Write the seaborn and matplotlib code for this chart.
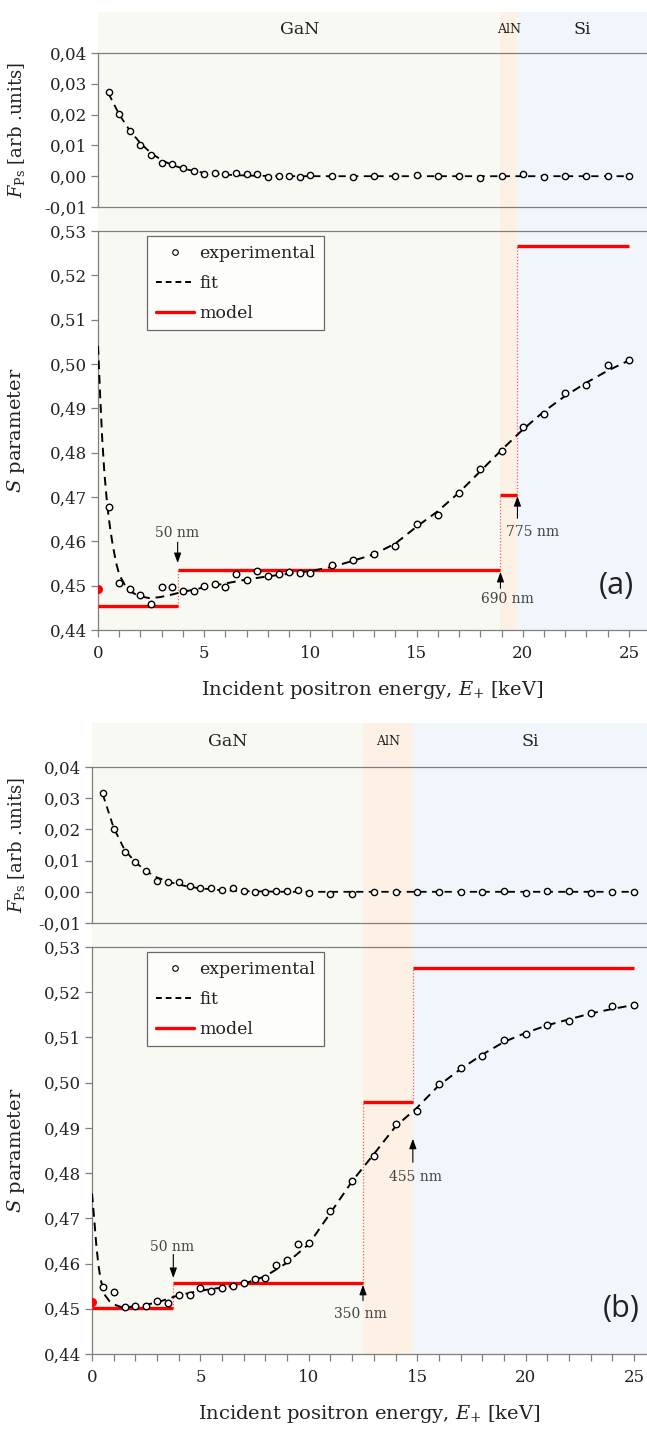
import numpy as np
import pandas as pd
import matplotlib
matplotlib.use("Agg")
import matplotlib.pyplot as plt
import seaborn as sns
from matplotlib.ticker import FixedLocator, MultipleLocator, FuncFormatter
from matplotlib.lines import Line2D

# ---------------- data ----------------
E_exp = [0.5, 1.0, 1.5, 2.0, 2.5, 3.0, 3.5, 4.0, 4.5, 5.0, 5.5, 6.0, 6.5, 7.0, 7.5,
         8.0, 8.5, 9.0, 9.5, 10.0, 11, 12, 13, 14, 15, 16, 17, 18, 19, 20, 21, 22, 23, 24, 25]

S_exp_a = [0.4678, 0.4507, 0.4493, 0.4479, 0.4458, 0.4497, 0.4497, 0.4487, 0.4488, 0.4500,
           0.4504, 0.4498, 0.4526, 0.4513, 0.4532, 0.4521, 0.4526, 0.4531, 0.4528, 0.4529,
           0.4546, 0.4557, 0.4572, 0.4590, 0.4639, 0.4660, 0.4709, 0.4763, 0.4804, 0.4858,
           0.4888, 0.4934, 0.4953, 0.4997, 0.5010]
S_exp_b = [0.4548, 0.4538, 0.4504, 0.4507, 0.4507, 0.4518, 0.4512, 0.4530, 0.4530, 0.4546,
           0.4539, 0.4546, 0.4550, 0.4556, 0.4565, 0.4568, 0.4596, 0.4608, 0.4643, 0.4646,
           0.4717, 0.4783, 0.4838, 0.4908, 0.4938, 0.4998, 0.5033, 0.5060, 0.5095, 0.5107,
           0.5128, 0.5137, 0.5154, 0.5169, 0.5172]

F_exp_a = [0.0272, 0.0203, 0.0146, 0.0102, 0.0069, 0.0043, 0.0039, 0.0028, 0.0018, 0.0008,
           0.0010, 0.0006, 0.0012, 0.0008, 0.0006, -0.0002, 0.0001, 0.0002, -0.0001, 0.0004,
           0.0002, -0.0003, 0.0000, 0.0002, 0.0005, 0.0000, 0.0000, -0.0005, 0.0000, 0.0008,
           -0.0003, 0.0000, 0.0002, 0.0001, 0.0000]
F_exp_b = [0.0317, 0.0201, 0.0127, 0.0096, 0.0068, 0.0036, 0.0030, 0.0032, 0.0020, 0.0011,
           0.0013, 0.0007, 0.0011, 0.0004, -0.0001, 0.0000, 0.0002, 0.0002, 0.0005, -0.0005,
           -0.0006, -0.0007, -0.0002, 0.0000, 0.0000, 0.0000, 0.0000, -0.0002, 0.0003, -0.0003,
           0.0001, 0.0001, -0.0003, -0.0001, 0.0000]

# fits
E_fitS_a = [0.0, 0.1, 0.2, 0.3, 0.4, 0.5, 0.6, 0.7, 0.85, 1.0, 1.3, 1.6, 1.9, 2.4, 2.9, 3.4,
            3.9, 4.5, 5, 6, 7, 8, 9, 10, 11, 12, 13, 14, 15, 16, 17, 18, 19, 20, 21, 22, 23, 24, 25]
S_fit_a = [0.5041, 0.4930, 0.4830, 0.4755, 0.4700, 0.4655, 0.4620, 0.4590, 0.4552, 0.4525,
           0.4498, 0.4485, 0.4477, 0.4472, 0.4474, 0.4479, 0.4485, 0.4491, 0.4496, 0.4505,
           0.4514, 0.4521, 0.4527, 0.4533, 0.4542, 0.4556, 0.4571, 0.4595, 0.4633, 0.4668,
           0.4710, 0.4758, 0.4806, 0.4852, 0.4893, 0.4928, 0.4958, 0.4985, 0.5008]
E_fitS_b = [0.0, 0.1, 0.2, 0.3, 0.4, 0.5, 0.6, 0.8, 1.1, 1.4, 1.9, 2.5, 3.0, 3.5, 4, 5, 6, 7,
            8, 9, 10, 11, 12, 13, 14, 15, 16, 17, 18, 19, 20, 21, 22, 23, 24, 25]
S_fit_b = [0.4755, 0.4700, 0.4640, 0.4595, 0.4565, 0.4545, 0.4530, 0.4517, 0.4508, 0.4503,
           0.4505, 0.4509, 0.4514, 0.4522, 0.4530, 0.4540, 0.4547, 0.4555, 0.4572, 0.4602,
           0.4643, 0.4712, 0.4782, 0.4842, 0.4903, 0.4945, 0.4994, 0.5030, 0.5062, 0.5090,
           0.5110, 0.5127, 0.5140, 0.5153, 0.5163, 0.5172]

E_fitF = [0.5, 1.0, 1.5, 2.0, 2.5, 3.0, 3.5, 4.0, 4.5, 5, 6, 7, 8, 9, 10, 15, 20, 25]
F_fit_a = [0.0268, 0.0200, 0.0148, 0.0107, 0.0075, 0.0052, 0.0036, 0.0025, 0.0017, 0.0011,
           0.0005, 0.0002, 0.0001, 0.0, 0.0, 0.0, 0.0, 0.0]
F_fit_b = [0.0312, 0.0205, 0.0135, 0.0095, 0.0066, 0.0046, 0.0033, 0.0023, 0.0016, 0.0011,
           0.0005, 0.0002, 0.0001, 0.0, 0.0, 0.0, 0.0, 0.0]

# model step profiles
model_edges_a = [0.0, 3.75, 18.95, 19.75, 25.0]
model_S_a = [0.4455, 0.4536, 0.4704, 0.5266]
model_surface_a = 0.4492
model_edges_b = [0.0, 3.75, 12.5, 14.8, 25.0]
model_S_b = [0.4501, 0.4558, 0.4958, 0.5253]
model_surface_b = 0.4514

# layers
layer_names = ["GaN", "AlN", "Si"]
layer_edges_a = [0.0, 18.95, 19.75, 25.85]
layer_edges_b = [0.0, 12.5, 14.8, 25.6]
layer_colors = ["#f7f9f2", "#fdf0e4", "#f1f6fc"]

# annotations: (label, x_arrow, y_tip, y_tail, x_text, y_text)
annot_a = [("50 nm", 3.75, 0.4551, 0.4598, 3.7, 0.4618),
           ("690 nm", 18.95, 0.4531, 0.4494, 19.3, 0.4469),
           ("775 nm", 19.75, 0.4702, 0.4652, 20.45, 0.4620)]
annot_b = [("50 nm", 3.75, 0.4568, 0.4620, 3.7, 0.4637),
           ("350 nm", 12.5, 0.4553, 0.4518, 12.4, 0.4489),
           ("455 nm", 14.8, 0.4876, 0.4824, 14.9, 0.4791)]

S_ticks = [0.44, 0.45, 0.46, 0.47, 0.48, 0.49, 0.50, 0.51, 0.52, 0.53]
F_ticks = [-0.01, 0.00, 0.01, 0.02, 0.03, 0.04]
x_major = [0, 5, 10, 15, 20, 25]

# ---------------- style ----------------
sns.set_theme(style="white")
plt.rcParams['font.family'] = ['DejaVu Serif']
plt.rcParams['mathtext.fontset'] = 'dejavuserif'
plt.rcParams['axes.edgecolor'] = '#7f7f7f'
plt.rcParams['axes.linewidth'] = 0.9
plt.rcParams['text.color'] = '#222222'
plt.rcParams['axes.labelcolor'] = '#222222'
plt.rcParams['xtick.color'] = '#7f7f7f'
plt.rcParams['ytick.color'] = '#7f7f7f'
plt.rcParams['xtick.labelcolor'] = '#222222'
plt.rcParams['ytick.labelcolor'] = '#222222'

W, H = 647, 1432
fig = plt.figure(figsize=(W / 100, H / 100), dpi=100)
fig.patch.set_facecolor('white')


def rect(l, t, r, b):
    return [l / W, 1 - b / H, (r - l) / W, (b - t) / H]


comma = FuncFormatter(lambda v, p: f"{v:.2f}".replace('.', ','))


def panel(geom, xmax, layer_edges, E, S, F, Efs, Sfit, Ff, model_edges, model_S,
          model_surface, annots, letter):
    left, top_bg, top_f, bot_f, top_s, bot_s = geom
    # background layers
    bg = fig.add_axes(rect(left, top_bg, W, bot_s), zorder=0)
    bg.set_xlim(0, xmax)
    bg.set_ylim(0, 1)
    for i in range(3):
        bg.axvspan(layer_edges[i], layer_edges[i + 1], color=layer_colors[i], lw=0)
    bg.axis('off')
    ytxt = 1 - ((top_f - top_bg) * 0.42) / (bot_s - top_bg)
    for i, nm in enumerate(layer_names):
        xc = 0.5 * (layer_edges[i] + layer_edges[i + 1])
        bg.text(xc, ytxt, nm, ha='center', va='center',
                fontsize=9 if nm == "AlN" else 12.5, color='#222222')

    # F_Ps axes
    axf = fig.add_axes(rect(left, top_f, W, bot_f), zorder=2)
    axf.set_facecolor('none')
    sns.lineplot(x=Efs, y=Ff, ax=axf, color='black', lw=1.3, linestyle=(0, (4, 3)),
                 estimator=None, sort=False, zorder=3)
    sns.scatterplot(x=E, y=F, ax=axf, marker='o', s=20, facecolor='white',
                    edgecolor='black', linewidth=1.0, zorder=5)
    axf.set_xlim(0, xmax)
    axf.set_ylim(-0.01, 0.04)
    axf.yaxis.set_major_locator(FixedLocator(F_ticks))
    axf.yaxis.set_major_formatter(comma)
    axf.set_xticks([])
    axf.spines['right'].set_visible(False)
    axf.tick_params(axis='y', direction='out', length=5, width=0.9, labelsize=12, pad=3, left=True)
    axf.set_ylabel(r"$\mathit{F}_{\mathrm{Ps}}$ [arb .units]", fontsize=13)
    axf.yaxis.set_label_coords((27 - left) / (W - left), 0.5)

    # S axes
    ax = fig.add_axes(rect(left, top_s, W, bot_s), zorder=2)
    ax.set_facecolor('none')
    # model
    ax.hlines(model_S, model_edges[:-1], model_edges[1:], colors='#ff0000', lw=2.4, zorder=4)
    vx = [0.0] + list(model_edges[1:-1])
    vlo = [min(model_surface, model_S[0])] + [min(model_S[i], model_S[i + 1]) for i in range(len(model_S) - 1)]
    vhi = [max(model_surface, model_S[0])] + [max(model_S[i], model_S[i + 1]) for i in range(len(model_S) - 1)]
    ax.vlines(vx, vlo, vhi, colors='#ff5a5a', lw=0.9, linestyles=(0, (1, 1.5)), zorder=3)
    ax.scatter([0.0], [model_surface], s=30, color='#ff0000', zorder=4, clip_on=True)
    sns.lineplot(x=Sfit[0], y=Sfit[1], ax=ax, color='black', lw=1.4, linestyle=(0, (4.5, 3)),
                 estimator=None, sort=False, zorder=5)
    sns.scatterplot(x=E, y=S, ax=ax, marker='o', s=22, facecolor='white',
                    edgecolor='black', linewidth=1.0, zorder=6)
    ax.set_xlim(0, xmax)
    ax.set_ylim(0.44, 0.53)
    ax.yaxis.set_major_locator(FixedLocator(S_ticks))
    ax.yaxis.set_major_formatter(comma)
    ax.xaxis.set_major_locator(FixedLocator(x_major))
    ax.xaxis.set_minor_locator(MultipleLocator(1))
    ax.spines['right'].set_visible(False)
    ax.tick_params(axis='y', direction='out', length=5, width=0.9, labelsize=12, pad=3, left=True)
    ax.tick_params(axis='x', which='both', direction='out', length=5, width=0.9,
                   labelsize=12, pad=6, bottom=True)
    ax.set_ylabel(r"$\mathit{S}$ parameter", fontsize=14)
    ax.yaxis.set_label_coords((27 - left) / (W - left), 0.5)
    ax.set_xlabel(r"Incident positron energy, $\mathit{E}_{+}$ [keV]", fontsize=14, labelpad=12)

    handles = [Line2D([], [], ls='none', marker='o', ms=4, mfc='white', mec='black', mew=0.8),
               Line2D([], [], color='black', lw=1.4, ls=(0, (3, 2))),
               Line2D([], [], color='#ff0000', lw=2.4)]
    leg = ax.legend(handles, ["experimental", "fit", "model"], loc='upper left',
                    bbox_to_anchor=((147 - left) / (W - left), 1 - 5 / (bot_s - top_s)),
                    frameon=True, fancybox=False, edgecolor='#444444', fontsize=12.5,
                    handlelength=2.2, handletextpad=0.3, labelspacing=0.75,
                    borderpad=0.5, borderaxespad=0.0)
    leg.get_frame().set_linewidth(0.9)

    for lbl, xa, ytip, ytail, xx, yy in annots:
        ax.annotate("", xy=(xa, ytip), xytext=(xa, ytail),
                    arrowprops=dict(arrowstyle='-|>,head_length=0.5,head_width=0.18',
                                    color='black', lw=0.8, shrinkA=0, shrinkB=0), zorder=7)
        ax.text(xx, yy, lbl, ha='center', va='center', fontsize=10, color='#444444', zorder=7)
    ax.text(24.4, 0.4500, letter, ha='center', va='center', fontsize=22,
            family=['Open Sans', 'DejaVu Sans'], color='#222222')
    return ax


panel((98, 12, 53, 207, 231, 630), 25.85, layer_edges_a, E_exp, S_exp_a, F_exp_a,
      E_fitF, (E_fitS_a, S_fit_a), F_fit_a, model_edges_a, model_S_a, model_surface_a,
      annot_a, "(a)")
panel((92, 723, 767, 923, 947, 1354), 25.6, layer_edges_b, E_exp, S_exp_b, F_exp_b,
      E_fitF, (E_fitS_b, S_fit_b), F_fit_b, model_edges_b, model_S_b, model_surface_b,
      annot_b, "(b)")

fig.savefig("out.png", dpi=100)
